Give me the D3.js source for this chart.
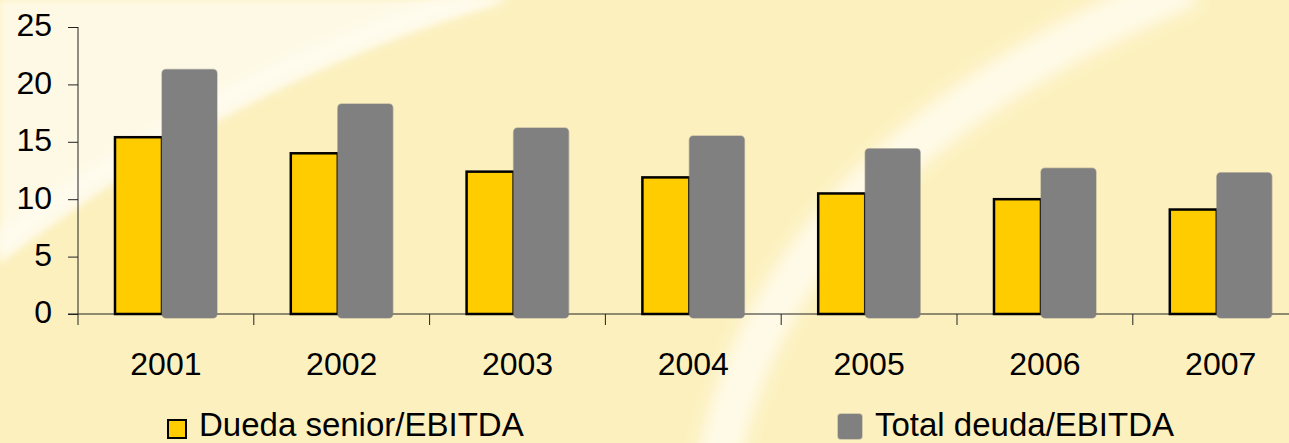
<!DOCTYPE html>
<html>
<head>
<meta charset="utf-8">
<script src="https://cdn.jsdelivr.net/npm/d3@7"></script>
<style>
  html, body { margin: 0; padding: 0; background: #fcf0be; }
  svg { display: block; }
</style>
</head>
<body>
<div id="chart"></div>
<script>
// data
var years = ['2001', '2002', '2003', '2004', '2005', '2006', '2007'];
var senior = [15.4, 14.0, 12.4, 11.9, 10.5, 10.0, 9.1];
var total = [21.3, 18.3, 16.2, 15.5, 14.4, 12.7, 12.3];
var yTicks = [0, 5, 10, 15, 20, 25];
var seriesNames = ['Dueda senior/EBITDA', 'Total deuda/EBITDA'];

var width = 1289, height = 443;
var font = '"Liberation Sans", Arial, sans-serif';

var svg = d3.select('#chart').append('svg')
    .attr('width', width)
    .attr('height', height);

var defs = svg.append('defs');
defs.append('filter').attr('id', 'soft')
    .attr('x', '-20%').attr('y', '-20%').attr('width', '140%').attr('height', '140%')
  .append('feGaussianBlur').attr('stdDeviation', 8);
defs.append('filter').attr('id', 'soft2')
    .attr('x', '-20%').attr('y', '-20%').attr('width', '140%').attr('height', '140%')
  .append('feGaussianBlur').attr('stdDeviation', 3);

// background
var bg = svg.append('g');
bg.append('rect').attr('width', width).attr('height', height).attr('fill', '#fcf0be');
// lighter top-left region
bg.append('path')
    .attr('d', 'M0,263 Q245,75 510,0 L0,0 Z')
    .attr('fill', '#fef9e4')
    .attr('filter', 'url(#soft2)');
bg.append('path')
    .attr('d', 'M-10,250 Q240,60 500,-10')
    .attr('fill', 'none')
    .attr('stroke', '#fffcf0')
    .attr('stroke-width', 18)
    .attr('filter', 'url(#soft)');
// white arc on the right
bg.append('path')
    .attr('d', 'M715,480 Q768,158 1190,-15')
    .attr('fill', 'none')
    .attr('stroke', '#fffbea')
    .attr('stroke-width', 44)
    .attr('opacity', 0.95)
    .attr('filter', 'url(#soft)');

var x0 = 78, yTop = 27, yBase = 314;

var x = d3.scaleBand()
    .domain(years)
    .range([x0, x0 + 7 * 175.8])
    .padding(0);

var y = d3.scaleLinear()
    .domain([0, 25])
    .range([yBase, yTop]);

// y axis
var yAxis = svg.append('g')
    .attr('transform', 'translate(' + x0 + ',0)')
    .call(d3.axisLeft(y).tickValues(yTicks).tickSize(10).tickPadding(16).tickSizeOuter(0));
yAxis.select('.domain').remove();
yAxis.selectAll('.tick line').attr('stroke', '#222');
yAxis.selectAll('.tick text')
    .attr('dy', '0.28em')
    .style('font-family', font)
    .style('font-size', '32px')
    .attr('fill', '#000');

svg.append('line')
    .attr('x1', x0).attr('x2', x0)
    .attr('y1', yTop).attr('y2', yBase + 11)
    .attr('stroke', '#222');

// x axis
svg.append('line')
    .attr('x1', x0 - 10).attr('x2', width)
    .attr('y1', yBase).attr('y2', yBase)
    .attr('stroke', '#222');
svg.append('g').selectAll('line')
    .data(years.slice(1))
    .enter().append('line')
      .attr('x1', function(d) { return x(d); })
      .attr('x2', function(d) { return x(d); })
      .attr('y1', yBase)
      .attr('y2', yBase + 11)
      .attr('stroke', '#222');
svg.append('g').selectAll('text')
    .data(years)
    .enter().append('text')
      .attr('x', function(d) { return x(d) + x.bandwidth() / 2; })
      .attr('y', 375)
      .attr('text-anchor', 'middle')
      .style('font-family', font)
      .style('font-size', '32px')
      .attr('fill', '#000')
      .text(function(d) { return d; });

// bars
var bars = svg.append('g');
bars.selectAll('rect.senior')
    .data(years)
    .enter().append('rect')
      .attr('class', 'senior')
      .attr('x', function(d) { return x(d) + 37; })
      .attr('y', function(d, i) { return y(senior[i]); })
      .attr('width', 47)
      .attr('height', function(d, i) { return yBase - y(senior[i]); })
      .attr('fill', '#ffcc00')
      .attr('stroke', '#000')
      .attr('stroke-width', 2.5);

bars.selectAll('rect.total')
    .data(years)
    .enter().append('rect')
      .attr('class', 'total')
      .attr('x', function(d) { return x(d) + 84; })
      .attr('y', function(d, i) { return y(total[i]); })
      .attr('width', 55)
      .attr('height', function(d, i) { return yBase - y(total[i]) + 4; })
      .attr('rx', 4)
      .attr('fill', '#808080')
      .attr('stroke', 'rgba(128,128,128,0.45)')
      .attr('stroke-width', 1.5);

// legend
var legend = svg.append('g');
legend.append('rect')
    .attr('x', 168).attr('y', 420).attr('width', 18).attr('height', 18)
    .attr('fill', '#ffcc00').attr('stroke', '#000').attr('stroke-width', 2);
legend.append('rect')
    .attr('x', 838).attr('y', 414).attr('width', 24).attr('height', 25).attr('rx', 3)
    .attr('fill', '#808080').attr('stroke', 'rgba(128,128,128,0.45)').attr('stroke-width', 1.5);
legend.selectAll('text')
    .data(seriesNames)
    .enter().append('text')
      .attr('x', function(d, i) { return i == 0 ? 199 : 875; })
      .attr('y', 436)
      .style('font-family', font)
      .style('font-size', '33px')
      .attr('fill', '#000')
      .text(function(d) { return d; });
</script>
</body>
</html>
